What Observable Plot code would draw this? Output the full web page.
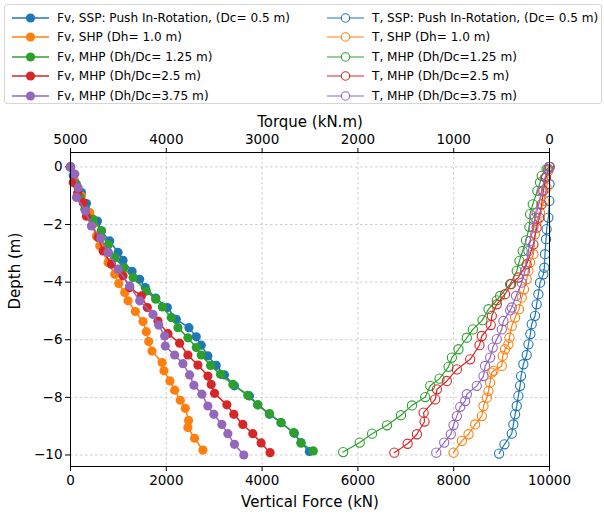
<!DOCTYPE html>
<html><head><meta charset="utf-8">
<script src="https://cdn.jsdelivr.net/npm/d3@7"></script>
<script src="https://cdn.jsdelivr.net/npm/@observablehq/plot@0.6"></script>
<style>
body{margin:0;background:#fff;font-family:"DejaVu Sans",sans-serif;}
#wrap{position:relative;width:604px;height:517px;overflow:hidden;}
#legend{position:absolute;left:4px;top:4px;width:598px;height:100px;border:1px solid #d6d6d6;border-radius:3px;box-sizing:border-box;font-size:12.1px;background:#fff;z-index:3;}
.item{position:absolute;height:19px;display:flex;align-items:center;white-space:nowrap;color:#000;}
.item svg{margin-right:8px;}
.layer{position:absolute;left:0;top:0;}
</style></head>
<body><div id="wrap"><div id="legend"></div></div>
<script>
// ---- data: [depth (m), value] ----
const FV_SSP = [[0,0],[-0.31,56],[-0.89,229],[-1.27,333],[-1.88,562],[-2.22,646],[-2.57,819],[-2.97,993],[-3.24,1097],[-3.63,1285],[-3.90,1444],[-4.19,1562],[-4.55,1780],[-4.88,2021],[-5.29,2208],[-5.58,2472],[-5.90,2625],[-6.19,2729],[-6.56,2868],[-6.89,3042],[-7.22,3215],[-7.60,3423],[-7.95,3736],[-8.26,3910],[-8.59,4153],[-8.88,4396],[-9.25,4673],[-9.57,4812],[-9.88,4986]];
const FV_SHP = [[0,0],[-0.49,90],[-1.01,229],[-1.59,403],[-2.00,470],[-2.40,542],[-2.74,611],[-3.32,785],[-3.73,924],[-4.05,1007],[-4.36,1132],[-4.65,1201],[-5.02,1354],[-5.37,1514],[-5.72,1583],[-6.06,1632],[-6.39,1701],[-6.79,1910],[-7.08,1951],[-7.43,2076],[-7.75,2174],[-8.10,2292],[-8.38,2396],[-8.80,2465],[-9.05,2451],[-9.42,2590],[-9.83,2764]];
const FV_MHP125 = [[0,0],[-0.60,125],[-1.05,200],[-1.47,299],[-1.82,472],[-2.22,646],[-2.70,790],[-3.15,924],[-3.50,1110],[-3.84,1306],[-4.31,1583],[-4.59,1778],[-4.86,1917],[-5.23,2104],[-5.58,2243],[-5.93,2451],[-6.27,2625],[-6.53,2729],[-6.89,2924],[-7.20,3132],[-7.55,3389],[-7.93,3701],[-8.26,3910],[-8.56,4153],[-8.88,4396],[-9.22,4660],[-9.59,4812],[-9.86,5069]];
const FV_MHP25 = [[0,0],[-0.54,56],[-0.90,150],[-1.24,264],[-1.71,333],[-2.45,576],[-2.92,681],[-3.38,854],[-3.78,1097],[-4.19,1236],[-4.48,1479],[-4.88,1604],[-5.35,1826],[-5.79,2035],[-6.12,2278],[-6.53,2451],[-6.88,2660],[-7.26,2868],[-7.55,2937],[-7.86,3007],[-8.26,3264],[-8.59,3410],[-8.94,3597],[-9.26,3805],[-9.58,3979],[-9.92,4167]];
const FV_MHP375 = [[0,0],[-0.25,90],[-0.72,160],[-1.06,125],[-1.53,312],[-2.05,437],[-2.48,632],[-2.97,785],[-3.55,993],[-4.13,1236],[-4.65,1444],[-5.12,1722],[-5.49,1840],[-5.87,1965],[-6.22,1979],[-6.53,2174],[-6.83,2347],[-7.22,2486],[-7.58,2576],[-7.89,2743],[-8.30,2868],[-8.59,2993],[-8.94,3160],[-9.26,3285],[-9.63,3423],[-10.00,3618]];

const T_SSP = [[0,0],[-0.60,0],[-1.18,2],[-1.76,12],[-2.16,30],[-2.51,36],[-3.03,47],[-3.50,54],[-3.73,64],[-4.02,99],[-4.42,116],[-4.77,134],[-5.17,151],[-5.46,186],[-5.80,200],[-6.16,220],[-6.53,238],[-6.85,273],[-7.26,297],[-7.60,307],[-7.95,325],[-8.30,342],[-8.59,359],[-8.94,377],[-9.26,394],[-9.63,470],[-9.95,526]];
const T_SHP = [[0,0],[-0.14,12],[-0.72,30],[-1.18,57],[-1.59,99],[-1.88,134],[-2.34,151],[-3.03,168],[-3.32,203],[-3.61,220],[-3.90,238],[-4.25,266],[-4.54,290],[-4.94,318],[-5.23,359],[-5.52,394],[-5.93,418],[-6.16,429],[-6.33,464],[-6.56,488],[-6.91,498],[-7.08,585],[-7.14,602],[-7.49,620],[-7.78,637],[-8.01,654],[-8.30,689],[-8.65,707],[-8.94,776],[-9.28,845],[-9.51,915],[-9.92,1002]];
const T_MHP125 = [[0,0],[-0.08,30],[-0.31,82],[-0.54,99],[-0.83,127],[-1.30,175],[-1.64,203],[-2.08,210],[-2.55,245],[-2.92,280],[-3.26,314],[-3.61,342],[-4.07,411],[-4.48,516],[-4.63,550],[-4.94,637],[-5.32,700],[-5.64,800],[-5.93,863],[-6.33,950],[-6.62,1019],[-6.94,1054],[-7.35,1148],[-7.60,1245],[-7.99,1297],[-8.28,1436],[-8.62,1550],[-8.97,1696],[-9.26,1852],[-9.57,1981],[-9.90,2154]];
const T_MHP25 = [[0,0],[-0.08,12],[-0.37,36],[-0.83,64],[-1.30,82],[-1.76,106],[-2.11,134],[-2.69,168],[-3.38,238],[-3.84,325],[-4.07,401],[-4.42,464],[-4.77,550],[-5.17,602],[-5.49,613],[-5.87,707],[-6.19,731],[-6.68,828],[-7.03,967],[-7.43,1071],[-7.72,1175],[-8.07,1193],[-8.53,1314],[-8.84,1304],[-9.28,1384],[-9.61,1481],[-9.92,1620]];
const T_MHP375 = [[0,0],[-0.08,12],[-0.37,47],[-0.83,82],[-1.59,134],[-1.76,151],[-2.11,168],[-2.57,203],[-2.92,220],[-3.61,255],[-4.02,290],[-4.48,349],[-4.88,394],[-4.98,411],[-5.35,481],[-5.64,498],[-5.98,550],[-6.27,592],[-6.62,620],[-6.91,672],[-7.26,689],[-7.60,759],[-7.89,863],[-8.13,880],[-8.33,932],[-8.65,967],[-8.96,1002],[-9.28,1030],[-9.57,1099],[-9.92,1182]];

const forceTicks = [0, 2000, 4000, 6000, 8000, 10000];
const torqueTicks = [5000, 4000, 3000, 2000, 1000, 0];
const depthTicks = [0, -2, -4, -6, -8, -10];

const fvSeries = [
  {name: "Fv, SSP: Push In-Rotation, (Dc= 0.5 m)", color: "#1f77b4", data: FV_SSP},
  {name: "Fv, SHP (Dh= 1.0 m)", color: "#ff7f0e", data: FV_SHP},
  {name: "Fv, MHP (Dh/Dc= 1.25 m)", color: "#2ca02c", data: FV_MHP125},
  {name: "Fv, MHP (Dh/Dc=2.5 m)", color: "#d62728", data: FV_MHP25},
  {name: "Fv, MHP (Dh/Dc=3.75 m)", color: "#9467bd", data: FV_MHP375}
];
const tSeries = [
  {name: "T, SSP: Push In-Rotation, (Dc= 0.5 m)", color: "#1f77b4", data: T_SSP},
  {name: "T, SHP (Dh= 1.0 m)", color: "#ff7f0e", data: T_SHP},
  {name: "T, MHP (Dh/Dc=1.25 m)", color: "#2ca02c", data: T_MHP125},
  {name: "T, MHP (Dh/Dc=2.5 m)", color: "#d62728", data: T_MHP25},
  {name: "T, MHP (Dh/Dc=3.75 m)", color: "#9467bd", data: T_MHP375}
];

const W = 604, H = 517;
const common = {
  width: W, height: H, marginTop: 152, marginRight: 55, marginBottom: 51, marginLeft: 70,
  style: {fontFamily: "DejaVu Sans, sans-serif", fontSize: "13.5px", color: "#000", background: "transparent", overflow: "visible"}
};
const gridStyle = {stroke: "#b0b0b0", strokeOpacity: 0.8, strokeDasharray: "2.5,2.5", strokeWidth: 0.8};

const fvMarks = fvSeries.flatMap(s => [
  Plot.line(s.data, {x: d => d[1], y: d => d[0], stroke: s.color, strokeWidth: 1.5}),
  Plot.dot(s.data, {x: d => d[1], y: d => d[0], fill: s.color, r: 4.6, stroke: "none"})
]);
const tMarks = tSeries.flatMap(s => [
  Plot.line(s.data, {x: d => d[1], y: d => d[0], stroke: s.color, strokeWidth: 1.2}),
  Plot.dot(s.data, {x: d => d[1], y: d => d[0], fill: "none", stroke: s.color, strokeWidth: 1.1, r: 4.6})
]);

const p1 = Plot.plot({
  ...common,
  x: {domain: [0, 10000]},
  y: {domain: [-10.4, 0.5]},
  marks: [
    Plot.gridX({ticks: forceTicks, ...gridStyle}),
    Plot.gridY({ticks: depthTicks, ...gridStyle}),
    Plot.axisX({ticks: forceTicks, anchor: "bottom", tickSize: 5, tickPadding: 4, label: null, tickFormat: d => String(d)}),
    Plot.axisY({ticks: depthTicks, anchor: "left", tickSize: 5, tickPadding: 3, label: null}),
    ...fvMarks,
    Plot.text(["Vertical Force (kN)"], {frameAnchor: "bottom", dy: 40, fontSize: 15}),
    Plot.text(["Depth (m)"], {frameAnchor: "left", dx: -55, rotate: -90, fontSize: 15})
  ]
});
const p2 = Plot.plot({
  ...common,
  x: {domain: [5000, 0]},
  y: {domain: [-10.4, 0.5], axis: null},
  marks: [
    Plot.axisX({ticks: torqueTicks, anchor: "top", tickSize: 5, tickPadding: 4, label: null, tickFormat: d => String(d)}),
    ...tMarks,
    Plot.frame({stroke: "#000", strokeWidth: 1}),
    Plot.text(["Torque (kN.m)"], {frameAnchor: "top", dy: -36, fontSize: 15})
  ]
});
p1.classList.add("layer"); p2.classList.add("layer");
const wrap = document.getElementById("wrap");
wrap.appendChild(p1); wrap.appendChild(p2);

// legend
const legend = document.getElementById("legend");
function addItem(s, col, row, filled) {
  const div = document.createElement("div");
  div.className = "item";
  div.style.left = (col === 0 ? 7 : 322) + "px";
  div.style.top = (3.5 + row * 19.4) + "px";
  const ns = "http://www.w3.org/2000/svg";
  const svg = document.createElementNS(ns, "svg");
  svg.setAttribute("width", 37); svg.setAttribute("height", 12);
  const ln = document.createElementNS(ns, "line");
  ln.setAttribute("x1", 0); ln.setAttribute("x2", 37); ln.setAttribute("y1", 6); ln.setAttribute("y2", 6);
  ln.setAttribute("stroke", s.color); ln.setAttribute("stroke-width", filled ? 1.5 : 1.2);
  const c = document.createElementNS(ns, "circle");
  c.setAttribute("cx", 18.5); c.setAttribute("cy", 6); c.setAttribute("r", filled ? 4.6 : 4.2);
  c.setAttribute("fill", filled ? s.color : "#fff");
  if (!filled) { c.setAttribute("stroke", s.color); c.setAttribute("stroke-width", 1.1); }
  svg.appendChild(ln); svg.appendChild(c);
  const span = document.createElement("span");
  span.textContent = s.name;
  div.appendChild(svg); div.appendChild(span);
  legend.appendChild(div);
}
fvSeries.forEach((s, i) => addItem(s, 0, i, true));
tSeries.forEach((s, i) => addItem(s, 1, i, false));
</script></body></html>
